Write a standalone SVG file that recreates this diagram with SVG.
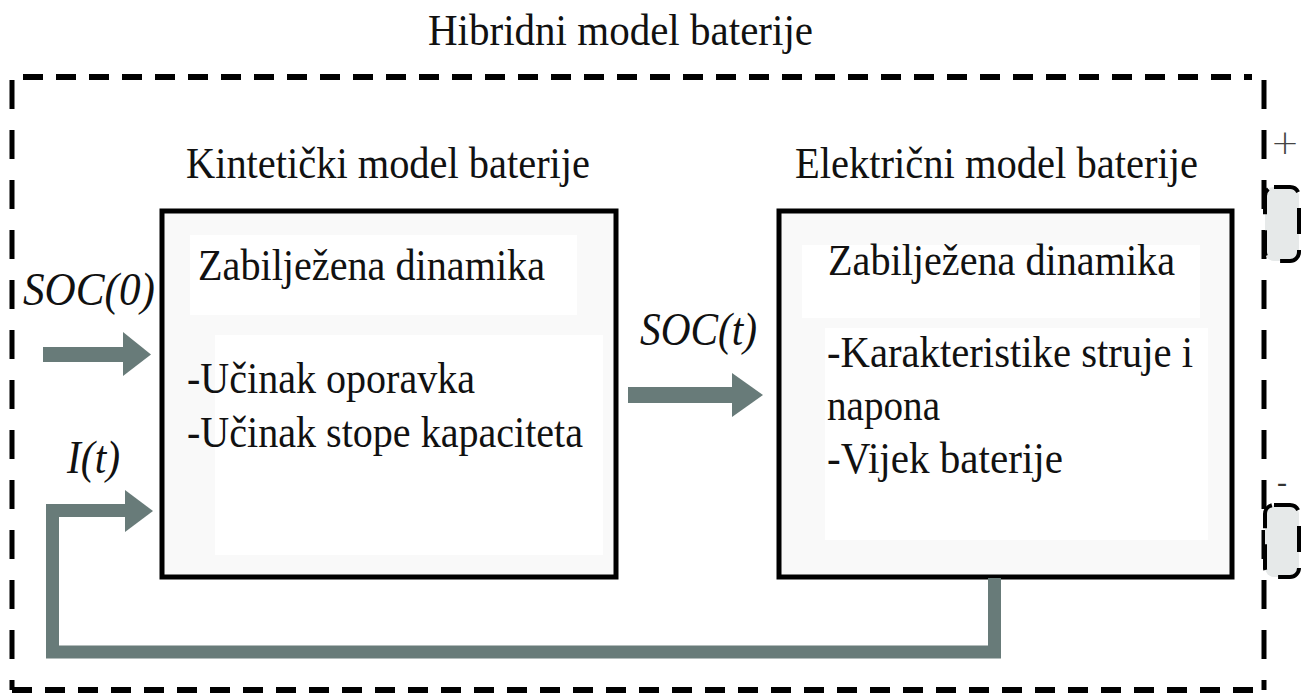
<svg xmlns="http://www.w3.org/2000/svg" width="1312" height="696" viewBox="0 0 1312 696">
<style>
.t{font-family:"Liberation Serif","Times New Roman",serif;font-size:45px;fill:#111}
.i{font-family:"Liberation Serif","Times New Roman",serif;font-style:italic;font-size:47px;fill:#111}
.box{fill:#f9f9f9;stroke:#000;stroke-width:5}
.inner{fill:#fff;stroke:none}
.dh{stroke:#000;stroke-width:6;stroke-dasharray:20 13;fill:none}
.dv{stroke:#000;stroke-width:5;stroke-dasharray:29 21;fill:none}
.term{fill:#e6e9e9;stroke:#000;stroke-width:4;stroke-dasharray:26 16}
.arr{fill:#687b79}
.wire{fill:none;stroke:#687b79;stroke-width:13}
</style>
<rect width="1312" height="696" fill="#fff"/>
<g id="outer">
<line class="dh" x1="23" y1="77" x2="1252" y2="77"/>
<line class="dv" x1="12" y1="80" x2="12" y2="690"/>
<line class="dh" x1="12" y1="690" x2="1264" y2="690"/>
<line class="dv" x1="1264" y1="80" x2="1264" y2="690"/>
<text class="t" x="428" y="45" textLength="385" lengthAdjust="spacingAndGlyphs">Hibridni model baterije</text>
</g>
<g id="terminal-plus">
<rect class="term" x="1265" y="187" width="34" height="74" rx="9"/>
<text x="1285" y="154" text-anchor="middle" style="font-family:'DejaVu Sans',sans-serif;font-size:34px;font-weight:200;fill:#444">+</text>
</g>
<g id="terminal-minus">
<rect class="term" x="1265" y="505" width="34" height="72" rx="9"/>
<text x="1282" y="492" text-anchor="middle" style="font-family:'Liberation Serif',serif;font-size:30px;fill:#333">-</text>
</g>
<g id="kinetic">
<text class="t" x="186" y="178" textLength="404" lengthAdjust="spacingAndGlyphs">Kintetički model baterije</text>
<rect class="box" x="162" y="211" width="454" height="366"/>
<rect class="inner" x="190" y="235" width="387" height="80"/>
<rect class="inner" x="215" y="335" width="388" height="220"/>
<text class="t" x="198" y="280" textLength="347" lengthAdjust="spacingAndGlyphs">Zabilježena dinamika</text>
<text class="t" x="187" y="393" textLength="288" lengthAdjust="spacingAndGlyphs">-Učinak oporavka</text>
<text class="t" x="187" y="447" textLength="396" lengthAdjust="spacingAndGlyphs">-Učinak stope kapaciteta</text>
</g>
<g id="electric">
<text class="t" x="795" y="178" textLength="403" lengthAdjust="spacingAndGlyphs">Električni model baterije</text>
<rect class="box" x="779" y="211" width="453" height="366"/>
<rect class="inner" x="802" y="245" width="398" height="73"/>
<rect class="inner" x="825" y="328" width="383" height="212"/>
<text class="t" x="828" y="275" textLength="347" lengthAdjust="spacingAndGlyphs">Zabilježena dinamika</text>
<text class="t" x="827" y="367" textLength="366" lengthAdjust="spacingAndGlyphs">-Karakteristike struje i</text>
<text class="t" x="827" y="420" textLength="113" lengthAdjust="spacingAndGlyphs">napona</text>
<text class="t" x="827" y="473" textLength="236" lengthAdjust="spacingAndGlyphs">-Vijek baterije</text>
</g>
<g id="connectors">
<rect class="arr" x="43" y="347" width="82" height="15"/>
<polygon class="arr" points="123,332 151,354.5 123,376"/>
<text class="i" x="23" y="305" textLength="132" lengthAdjust="spacingAndGlyphs">SOC(0)</text>
<rect class="arr" x="628" y="387" width="106" height="16"/>
<polygon class="arr" points="732,373 763,395 732,417"/>
<text class="i" x="640" y="345" textLength="117" lengthAdjust="spacingAndGlyphs">SOC(t)</text>
<path class="wire" d="M994.5 578 V652 H52.5 V510.5 H127"/>
<polygon class="arr" points="125,490 153,511 125,532"/>
<text class="i" x="67" y="473" textLength="53" lengthAdjust="spacingAndGlyphs">I(t)</text>
</g>
</svg>
